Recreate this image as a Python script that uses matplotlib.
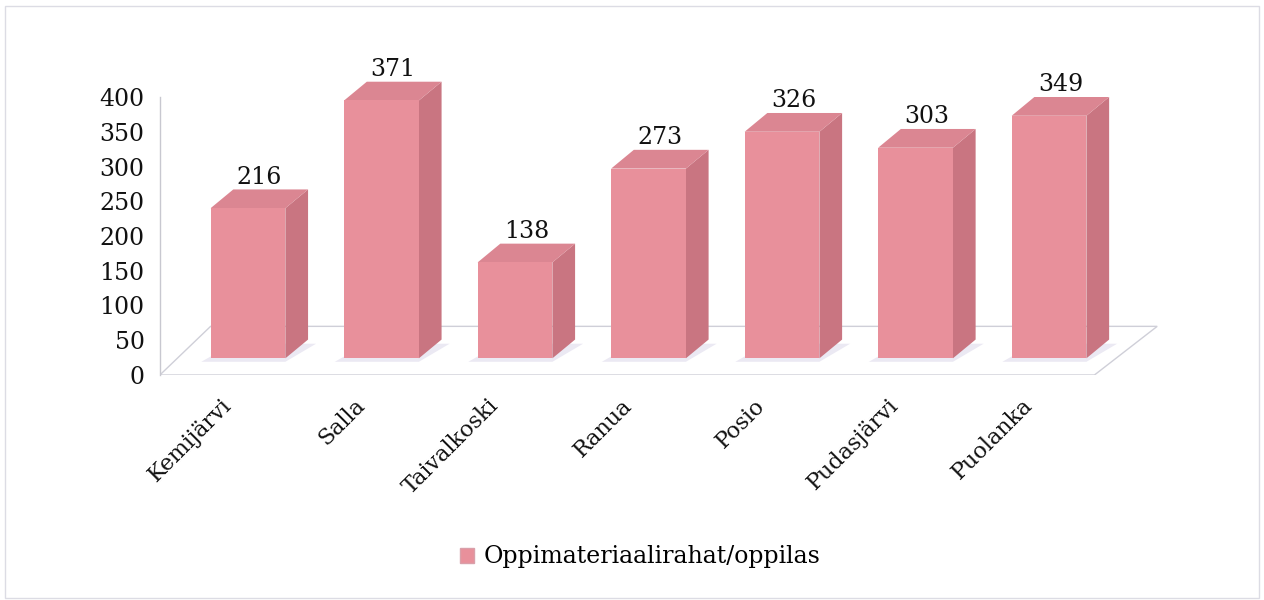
import matplotlib
matplotlib.use("Agg")
import matplotlib.pyplot as plt
from matplotlib.patches import Polygon, Rectangle, Patch

# data
municipalities = ['Kemijärvi', 'Salla', 'Taivalkoski', 'Ranua', 'Posio', 'Pudasjärvi', 'Puolanka']
grants_per_pupil = [216, 371, 138, 273, 326, 303, 349]
series_name = 'Oppimateriaalirahat/oppilas'
y_ticks = [0, 50, 100, 150, 200, 250, 300, 350, 400]

plt.rcParams['font.family'] = ['DejaVu Serif']

front_col = '#E8909B'
side_col = '#C97581'
top_col = '#DB8692'

W, H = 1264, 600
fig = plt.figure(figsize=(W / 100, H / 100), dpi=100)

# axes box in pixels: left 160, right 1160, y=0 at 375, y=400 at 97
ax = fig.add_axes([160 / W, (H - 375) / H, 1000 / W, (375 - 97) / H])
ax.set_ylim(0, 400)
ax.set_xlim(-0.659, 6.831)

# fake 3d offsets (data units)
half_w = 0.28
dx, dy = 0.17, 27
base = 24

# floor
floor = Polygon([(-0.66, 0), (6.34, 0), (6.81, 70), (-0.28, 70)], closed=True,
                facecolor='white', edgecolor='#cfcfd8', linewidth=1.0, zorder=1)
ax.add_patch(floor)

for i, v in enumerate(grants_per_pupil):
    x0, x1 = i - half_w, i + half_w
    top = base + v
    # soft shadow on the floor
    ax.add_patch(Polygon([(x0 - 0.07, base - 5), (x1, base - 5),
                          (x1 + dx + 0.06, base + dy - 6), (x0 + dx, base + dy - 6)],
                         closed=True, facecolor='#ebe9f3', edgecolor='none', zorder=2))
    ax.add_patch(Polygon([(x1, base), (x1 + dx, base + dy), (x1 + dx, top + dy), (x1, top)],
                         closed=True, facecolor=side_col, edgecolor='none', zorder=3,
                         clip_on=False))
    ax.add_patch(Polygon([(x0, top), (x1, top), (x1 + dx, top + dy), (x0 + dx, top + dy)],
                         closed=True, facecolor=top_col, edgecolor='none', zorder=3,
                         clip_on=False))
    ax.bar(i, v, width=2 * half_w, bottom=base, color=front_col, zorder=4, clip_on=False)
    ax.text(i + dx / 2, top + dy + 8, str(v), ha='center', va='baseline',
            fontsize=17, color='#111111', zorder=5, clip_on=False)

for s in ['top', 'right', 'bottom']:
    ax.spines[s].set_visible(False)
ax.spines['left'].set_color('#c8c8d0')
ax.spines['left'].set_linewidth(1.0)

ax.set_yticks(y_ticks)
ax.set_yticklabels([str(t) for t in y_ticks], fontsize=17, color='#111111')
ax.tick_params(axis='y', length=0, pad=11)

ax.set_xticks([i - 0.21 for i in range(len(municipalities))])
ax.set_xticklabels(municipalities, rotation=45, ha='right', rotation_mode='anchor',
                   fontsize=16, color='#111111')
ax.tick_params(axis='x', length=0, pad=14)
ax.patch.set_visible(False)

fig.legend(handles=[Patch(facecolor=front_col, edgecolor='#d9a0aa')], labels=[series_name],
           loc='center', bbox_to_anchor=(640 / W, 1 - 557 / H), frameon=False,
           fontsize=17, handlelength=0.6, handleheight=0.6, handletextpad=0.4)

# faint outer frame
fig.patches.append(Rectangle((5 / W, 2 / H), (W - 10) / W, (H - 8) / H,
                             transform=fig.transFigure, fill=False,
                             edgecolor='#dcdce4', linewidth=1.0))

fig.savefig('out.png', dpi=100)
